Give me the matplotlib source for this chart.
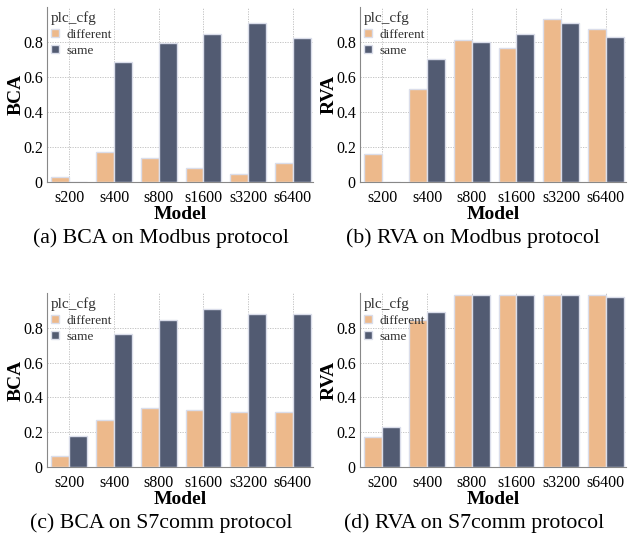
import numpy as np
import matplotlib.pyplot as plt

plt.rcParams['font.family'] = ['Liberation Serif', 'DejaVu Serif']

# data
models = ["s200", "s400", "s800", "s1600", "s3200", "s6400"]
groups = ["different", "same"]

bca_modbus_diff = [0.03, 0.17, 0.136, 0.081, 0.044, 0.106]
bca_modbus_same = [0.0, 0.685, 0.794, 0.848, 0.906, 0.825]
rva_modbus_diff = [0.159, 0.533, 0.81, 0.766, 0.929, 0.873]
rva_modbus_same = [0.0, 0.702, 0.80, 0.846, 0.907, 0.829]
bca_s7_diff = [0.061, 0.27, 0.339, 0.326, 0.314, 0.318]
bca_s7_same = [0.179, 0.766, 0.846, 0.91, 0.878, 0.88]
rva_s7_diff = [0.17, 0.846, 0.99, 0.99, 0.99, 0.99]
rva_s7_same = [0.229, 0.89, 0.99, 0.99, 0.99, 0.977]

panels = [
    ("BCA", bca_modbus_diff, bca_modbus_same, "(a) BCA on Modbus protocol"),
    ("RVA", rva_modbus_diff, rva_modbus_same, "(b) RVA on Modbus protocol"),
    ("BCA", bca_s7_diff, bca_s7_same, "(c) BCA on S7comm protocol"),
    ("RVA", rva_s7_diff, rva_s7_same, "(d) RVA on S7comm protocol"),
]

colors = ["#EDB98B", "#525B72"]
edge = "#DADDEA"
W, H = 628, 540
# axes boxes in pixels: left, top, right, bottom
boxes = [(47, 7, 313, 182), (360, 7, 626, 182),
         (47, 293, 313, 467), (360, 293, 626, 467)]
cap_pos = [(161, 238), (473, 238), (161, 523), (474, 523)]

fig = plt.figure(figsize=(W / 100, H / 100), dpi=100)

x = np.arange(len(models))
w = 0.4
for (ylab, d, s, cap), (l, t, r, b), (cx, cy) in zip(panels, boxes, cap_pos):
    ax = fig.add_axes([l / W, 1 - b / H, (r - l) / W, (b - t) / H])
    ax.bar(x - w / 2, d, w, color=colors[0], edgecolor=edge, linewidth=1.0,
           label=groups[0], zorder=3)
    ax.bar(x + w / 2, s, w, color=colors[1], edgecolor=edge, linewidth=1.0,
           label=groups[1], zorder=3)
    ax.set_xlim(-0.5, 5.45)
    ax.set_ylim(0, 1.0)
    ax.set_yticks([0, 0.2, 0.4, 0.6, 0.8])
    ax.set_yticklabels(["0", "0.2", "0.4", "0.6", "0.8"])
    ax.set_xticks(x)
    ax.set_xticklabels(models)
    ax.tick_params(labelsize=11.5, length=0)
    ax.tick_params(axis="x", pad=6)
    ax.tick_params(axis="y", pad=3)
    ax.grid(True, linestyle=(0, (1.5, 1.5)), color="#BBBBBB", linewidth=0.6,
            zorder=0)
    for sp in ["top", "right"]:
        ax.spines[sp].set_visible(False)
    for sp in ["left", "bottom"]:
        ax.spines[sp].set_color("#888888")
        ax.spines[sp].set_linewidth(0.8)
    ax.set_xlabel("Model", fontsize=14, fontweight="bold", labelpad=0)
    ax.set_ylabel(ylab, fontsize=14, fontweight="bold", labelpad=-1)
    leg = ax.legend(title="plc_cfg", loc="upper left", frameon=False,
                    fontsize=9.5, title_fontsize=11, handlelength=0.6,
                    handleheight=0.6, handletextpad=0.6, labelspacing=0.3,
                    borderaxespad=0.1, borderpad=0.2)
    leg._legend_box.align = "left"
    for txt in leg.get_texts():
        txt.set_color("#333333")
    leg.get_title().set_color("#333333")
    fig.text(cx / W, 1 - cy / H, cap, ha="center", va="center", fontsize=15.7)

fig.savefig("out.png", dpi=100)
